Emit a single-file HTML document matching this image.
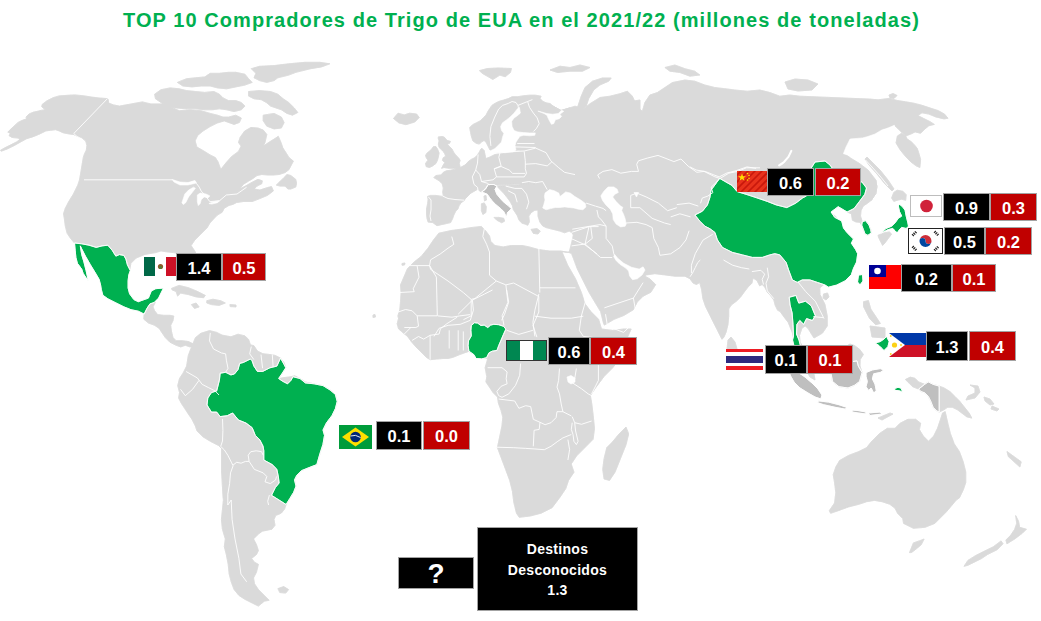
<!DOCTYPE html>
<html><head><meta charset="utf-8">
<style>
html,body{margin:0;padding:0;background:#fff;}
body{width:1041px;height:621px;position:relative;overflow:hidden;font-family:"Liberation Sans",sans-serif;}
.t{position:absolute;left:123px;top:9px;color:#00b050;font-weight:bold;font-size:20px;white-space:nowrap;letter-spacing:1.07px;}
.b{position:absolute;box-sizing:border-box;border:1px solid #a3a3a3;color:#fff;font-weight:bold;font-size:16.5px;padding-top:2px;display:flex;align-items:center;justify-content:center;}
.k{background:#000;}
.r{background:#c00000;}
.f{position:absolute;box-sizing:border-box;overflow:hidden;}
</style></head><body>
<svg width="1041" height="621" viewBox="0 0 1041 621" style="position:absolute;left:0;top:0">
<g fill="#dadada" stroke="#dadada" stroke-width="0.6" stroke-linejoin="round"><path d="M0.6,150.2 L4.8,147.8 L10.9,144.8 L16.9,141.7 L19.9,139.3 L18.1,138.1 L12.1,137.5 L9.1,135.7 L10.3,133.3 L7.8,132.1 L13.3,126.7 L18.1,122.4 L21.7,120.6 L26.6,118.8 L26.0,117.0 L29.0,114.0 L33.2,112.2 L36.2,111.6 L41.0,110.4 L45.3,109.7 L41.7,106.7 L42.3,104.3 L47.1,100.7 L53.1,97.7 L59.2,95.9 L67.6,95.3 L74.9,94.9 L84.5,95.9 L91.8,97.1 L99.0,98.0 L106.2,98.5 L108.1,99.2 L108.7,103.1 L113.5,104.9 L119.5,106.1 L142.4,101.9 L150.7,103.9 L164.1,103.9 L179.2,110.7 L190.2,109.8 L201.1,110.7 L210.2,113.4 L217.5,115.2 L223.0,117.1 L228.5,117.1 L235.8,115.2 L241.3,118.0 L239.4,122.5 L234.0,124.4 L224.3,120.9 L217.2,123.0 L210.1,126.6 L203.0,131.0 L197.7,135.4 L195.1,140.8 L196.8,147.0 L203.0,150.5 L210.1,154.9 L215.4,157.6 L218.1,162.0 L220.8,169.5 L225.2,163.8 L231.4,156.7 L238.5,151.4 L241.1,146.1 L238.5,142.5 L240.2,137.2 L244.7,131.0 L250.9,127.5 L258.0,128.0 L263.3,130.1 L266.8,134.5 L265.0,142.5 L263.3,146.1 L268.6,142.5 L275.7,138.1 L278.3,136.3 L281.0,142.5 L282.8,147.8 L286.3,153.2 L289.0,157.6 L293.4,161.1 L288.9,169.7 L285.0,172.6 L279.2,174.5 L273.4,175.0 L267.6,175.0 L261.8,174.5 L257.0,175.5 L253.1,178.4 L248.3,181.3 L243.5,184.2 L239.6,189.0 L245.4,186.1 L252.2,182.2 L258.0,179.3 L262.3,180.8 L261.8,183.7 L257.0,186.1 L254.1,189.0 L259.9,190.0 L267.6,187.5 L271.5,186.6 L273.4,190.9 L267.6,195.3 L259.9,198.6 L252.2,201.5 L243.5,201.5 L236.7,202.5 L232.9,204.4 L229.0,205.4 L224.2,208.3 L222.2,212.2 L217.4,215.1 L214.5,218.0 L209.9,223.0 L207.1,227.8 L200.0,234.9 L194.7,240.2 L191.1,245.6 L194.7,250.9 L201.7,265.0 L203.5,275.7 L198.2,272.1 L191.1,259.7 L184.0,254.4 L173.4,252.6 L166.3,251.8 L161.0,250.9 L155.7,252.6 L145.0,254.4 L136.2,258.0 L130.9,263.3 L130.0,268.6 L129.1,272.1 L115.0,258.0 L100.0,250.0 L80.0,246.0 L74.5,243.0 L70.6,238.5 L67.1,233.2 L65.3,226.1 L64.4,219.0 L63.5,213.7 L65.3,208.3 L68.9,201.3 L73.3,194.2 L77.7,185.3 L79.5,180.0 L83.3,157.4 L84.5,153.8 L86.3,150.2 L86.9,145.4 L85.7,141.1 L82.1,138.1 L77.3,136.3 L73.6,134.5 L68.8,133.9 L62.8,132.7 L59.2,130.9 L55.5,129.7 L50.7,130.3 L45.9,130.9 L42.3,132.7 L38.6,134.5 L32.6,136.9 L26.6,138.7 L21.1,141.7 L14.5,145.4 L7.2,149.0 L1.2,151.2 L0.6,150.2 L4.8,147.8 L10.9,144.8 L16.9,141.7 L19.9,139.3 L18.1,138.1 L12.1,137.5 L9.1,135.7 L10.3,133.3 L7.8,132.1 L13.3,126.7 L18.1,122.4 L21.7,120.6 L26.6,118.8 L26.0,117.0 L29.0,114.0 L33.2,112.2 L36.2,111.6 L41.0,110.4 L45.3,109.7 L41.7,106.7 L42.3,104.3 L47.1,100.7 L53.1,97.7 L59.2,95.9 L67.6,95.3 L74.9,94.9 L84.5,95.9 L91.8,97.1 L99.0,98.0 L106.2,98.5 L108.1,99.2 L108.7,103.1 L113.5,104.9 L119.5,106.1 L142.4,101.9 L150.7,103.9 L164.1,103.9 L179.2,110.7 L190.2,109.8 L201.1,110.7 L210.2,113.4 L217.5,115.2 L223.0,117.1 L228.5,117.1 L235.8,115.2 L241.3,118.0 L239.4,122.5 L234.0,124.4 L224.3,120.9 L217.2,123.0 L210.1,126.6 L203.0,131.0 L197.7,135.4 L195.1,140.8 L196.8,147.0 L203.0,150.5 L210.1,154.9 L215.4,157.6 L218.1,162.0 L220.8,169.5 L225.2,163.8 L231.4,156.7 L238.5,151.4 L241.1,146.1 L238.5,142.5 L240.2,137.2 L244.7,131.0 L250.9,127.5 L258.0,128.0 L263.3,130.1 L266.8,134.5 L265.0,142.5 L263.3,146.1 L268.6,142.5 L275.7,138.1 L278.3,136.3 L281.0,142.5 L282.8,147.8 L286.3,153.2 L289.0,157.6 L293.4,161.1 L288.9,169.7 L285.0,172.6 L279.2,174.5 L273.4,175.0 L267.6,175.0 L261.8,174.5 L257.0,175.5 L253.1,178.4 L248.3,181.3 L243.5,184.2 L239.6,189.0 L245.4,186.1 L252.2,182.2 L258.0,179.3 L262.3,180.8 L261.8,183.7 L257.0,186.1 L254.1,189.0 L259.9,190.0 L267.6,187.5 L271.5,186.6 L273.4,190.9 L267.6,195.3 L259.9,198.6 L252.2,201.5 L243.5,201.5 L236.7,202.5 L232.9,204.4 L229.0,205.4 L224.2,208.3 L222.2,212.2 L217.4,215.1 L214.5,218.0 L209.9,223.0 L207.1,227.8 L200.0,234.9 L194.7,240.2 L191.1,245.6 L194.7,250.9 L201.7,265.0 L203.5,275.7 L198.2,272.1 L191.1,259.7 L184.0,254.4 L173.4,252.6 L166.3,251.8 L161.0,250.9 L155.7,252.6 L145.0,254.4 L136.2,258.0 L130.9,263.3 L130.0,268.6 L129.1,272.1 L115.0,258.0 L100.0,250.0 L80.0,246.0 L74.5,243.0 L70.6,238.5 L67.1,233.2 L65.3,226.1 L64.4,219.0 L63.5,213.7 L65.3,208.3 L68.9,201.3 L73.3,194.2 L77.7,185.3 L79.5,180.0 L83.3,157.4 L84.5,153.8 L86.3,150.2 L86.9,145.4 L85.7,141.1 L82.1,138.1 L77.3,136.3 L73.6,134.5 L68.8,133.9 L62.8,132.7 L59.2,130.9 L55.5,129.7 L50.7,130.3 L45.9,130.9 L42.3,132.7 L38.6,134.5 L32.6,136.9 L26.6,138.7 L21.1,141.7 L14.5,145.4 L7.2,149.0 L1.2,151.2ZM251.3,68.7 L259.5,66.3 L274.1,65.6 L288.7,63.8 L305.1,62.3 L319.7,62.3 L329.8,63.8 L321.6,66.9 L310.6,68.7 L296.0,72.3 L288.7,75.1 L277.8,77.8 L274.1,80.6 L266.8,82.4 L259.5,80.6 L254.0,77.8 L255.9,73.3 L251.3,68.7 L259.5,66.3 L274.1,65.6 L288.7,63.8 L305.1,62.3 L319.7,62.3 L329.8,63.8 L321.6,66.9 L310.6,68.7 L296.0,72.3 L288.7,75.1 L277.8,77.8 L274.1,80.6 L266.8,82.4 L259.5,80.6 L254.0,77.8 L255.9,73.3ZM248.6,91.5 L259.5,90.6 L270.5,91.5 L277.8,94.2 L283.2,98.8 L288.7,102.5 L294.2,107.9 L297.8,112.5 L292.4,115.2 L286.9,113.4 L281.4,109.8 L275.9,107.9 L270.5,106.1 L266.8,102.8 L261.3,99.7 L254.0,98.8 L248.6,96.1 L248.6,91.5 L259.5,90.6 L270.5,91.5 L277.8,94.2 L283.2,98.8 L288.7,102.5 L294.2,107.9 L297.8,112.5 L292.4,115.2 L286.9,113.4 L281.4,109.8 L275.9,107.9 L270.5,106.1 L266.8,102.8 L261.3,99.7 L254.0,98.8 L248.6,96.1ZM263.2,115.2 L274.1,113.4 L281.4,117.1 L284.1,122.5 L281.4,128.0 L274.1,128.9 L266.8,126.2 L263.2,120.7 L263.2,115.2 L274.1,113.4 L281.4,117.1 L284.1,122.5 L281.4,128.0 L274.1,128.9 L266.8,126.2 L263.2,120.7ZM154.6,94.2 L161.0,89.7 L170.1,87.9 L179.2,88.8 L186.5,90.6 L195.6,91.5 L204.8,92.4 L213.9,91.5 L219.4,94.2 L223.0,97.9 L228.5,100.6 L235.8,100.6 L241.3,102.5 L244.9,106.1 L241.3,109.8 L234.0,111.6 L226.7,109.8 L219.4,108.8 L212.1,109.8 L204.8,109.8 L195.6,108.8 L186.5,108.8 L175.6,107.9 L166.4,106.1 L161.0,102.5 L155.5,98.8 L154.6,94.2 L161.0,89.7 L170.1,87.9 L179.2,88.8 L186.5,90.6 L195.6,91.5 L204.8,92.4 L213.9,91.5 L219.4,94.2 L223.0,97.9 L228.5,100.6 L235.8,100.6 L241.3,102.5 L244.9,106.1 L241.3,109.8 L234.0,111.6 L226.7,109.8 L219.4,108.8 L212.1,109.8 L204.8,109.8 L195.6,108.8 L186.5,108.8 L175.6,107.9 L166.4,106.1 L161.0,102.5 L155.5,98.8ZM177.4,82.4 L186.5,78.7 L195.6,77.8 L204.8,76.9 L210.2,73.3 L219.4,73.3 L228.5,72.3 L235.8,72.3 L244.9,74.2 L248.6,78.7 L252.2,82.4 L244.9,85.1 L235.8,86.9 L226.7,88.8 L217.5,87.9 L210.2,86.0 L201.1,86.0 L192.0,86.9 L182.9,86.0 L177.4,82.4 L186.5,78.7 L195.6,77.8 L204.8,76.9 L210.2,73.3 L219.4,73.3 L228.5,72.3 L235.8,72.3 L244.9,74.2 L248.6,78.7 L252.2,82.4 L244.9,85.1 L235.8,86.9 L226.7,88.8 L217.5,87.9 L210.2,86.0 L201.1,86.0 L192.0,86.9 L182.9,86.0ZM276.3,185.1 L280.2,181.3 L284.1,177.4 L287.0,174.5 L290.8,175.5 L295.7,179.3 L296.6,183.2 L295.7,187.1 L290.8,189.0 L287.9,189.0 L285.0,186.1 L280.2,186.1 L276.3,185.1 L280.2,181.3 L284.1,177.4 L287.0,174.5 L290.8,175.5 L295.7,179.3 L296.6,183.2 L295.7,187.1 L290.8,189.0 L287.9,189.0 L285.0,186.1 L280.2,186.1ZM171.5,288.4 L179.1,285.4 L188.4,287.7 L197.6,291.5 L205.3,295.4 L203.7,297.7 L196.1,296.9 L188.4,294.6 L180.7,293.1 L177.6,296.1 L176.1,291.5 L172.2,290.0 L171.5,288.4 L179.1,285.4 L188.4,287.7 L197.6,291.5 L205.3,295.4 L203.7,297.7 L196.1,296.9 L188.4,294.6 L180.7,293.1 L177.6,296.1 L176.1,291.5 L172.2,290.0ZM206.8,300.7 L213.0,299.2 L220.6,300.7 L225.3,303.0 L219.1,305.4 L211.4,304.6 L206.8,303.0 L206.8,300.7 L213.0,299.2 L220.6,300.7 L225.3,303.0 L219.1,305.4 L211.4,304.6 L206.8,303.0ZM191.4,304.6 L196.1,303.0 L199.1,306.9 L194.5,308.4 L191.4,304.6 L196.1,303.0 L199.1,306.9 L194.5,308.4ZM229.9,304.6 L236.0,305.0 L236.0,306.9 L230.2,306.6 L229.9,304.6 L236.0,305.0 L236.0,306.9 L230.2,306.6ZM144.1,314.1 L147.0,308.3 L149.9,303.9 L154.2,302.5 L155.3,302.3 L153.0,306.9 L154.6,310.7 L157.6,314.6 L163.8,315.3 L169.9,315.3 L173.8,316.1 L173.0,320.7 L170.7,325.3 L171.5,331.5 L173.0,337.6 L176.1,340.7 L182.2,340.7 L188.4,341.5 L193.0,343.8 L195.0,346.0 L189.9,346.9 L185.3,345.3 L180.7,346.9 L176.1,345.3 L169.9,342.2 L165.3,337.6 L162.2,333.0 L159.2,328.4 L154.6,325.3 L148.4,323.0 L143.8,319.2 L144.1,314.1 L147.0,308.3 L149.9,303.9 L154.2,302.5 L155.3,302.3 L153.0,306.9 L154.6,310.7 L157.6,314.6 L163.8,315.3 L169.9,315.3 L173.8,316.1 L173.0,320.7 L170.7,325.3 L171.5,331.5 L173.0,337.6 L176.1,340.7 L182.2,340.7 L188.4,341.5 L193.0,343.8 L195.0,346.0 L189.9,346.9 L185.3,345.3 L180.7,346.9 L176.1,345.3 L169.9,342.2 L165.3,337.6 L162.2,333.0 L159.2,328.4 L154.6,325.3 L148.4,323.0 L143.8,319.2ZM191.0,348.3 L195.4,337.7 L200.8,333.3 L209.6,330.6 L216.7,332.4 L222.0,335.1 L230.9,336.8 L238.0,334.2 L245.0,335.9 L248.6,339.5 L250.4,344.8 L253.9,345.7 L257.4,351.0 L262.8,353.7 L269.9,354.5 L275.2,355.4 L280.5,358.1 L284.0,362.5 L285.8,367.8 L282.3,373.2 L278.7,378.5 L284.0,377.6 L291.1,376.7 L294.7,375.8 L300.0,378.5 L305.3,382.0 L314.1,383.8 L323.0,385.6 L330.1,390.0 L335.4,394.4 L337.2,401.5 L335.4,408.6 L331.9,415.7 L326.5,422.8 L323.0,430.0 L324.5,435.4 L322.9,444.6 L319.9,453.8 L316.8,464.6 L309.1,467.6 L301.4,470.7 L296.8,475.3 L294.5,479.9 L296.0,486.1 L293.7,492.2 L289.9,498.4 L286.1,504.5 L284.5,509.1 L281.4,513.0 L278.4,514.5 L275.9,515.2 L274.0,519.5 L275.0,525.3 L272.0,529.2 L262.3,531.2 L258.4,534.1 L253.5,538.9 L256.5,544.8 L258.4,550.6 L256.5,554.5 L251.6,558.4 L254.5,562.3 L258.4,564.3 L256.5,572.0 L253.5,577.9 L254.5,583.7 L258.4,589.6 L264.3,595.4 L269.1,600.3 L264.3,601.2 L258.4,606.1 L252.6,603.2 L244.8,599.3 L238.9,595.4 L234.1,589.6 L231.2,581.8 L229.2,574.0 L228.2,564.3 L226.3,554.5 L224.3,546.7 L225.3,538.9 L222.4,529.2 L221.4,519.5 L222.4,509.7 L223.4,500.0 L223.0,496.9 L222.3,484.6 L221.5,470.7 L221.5,458.4 L221.5,448.4 L218.4,445.4 L210.7,441.5 L203.1,436.9 L196.9,430.8 L195.4,426.1 L192.3,420.0 L191.9,419.2 L188.3,413.9 L184.8,408.6 L181.3,403.3 L178.6,398.0 L179.5,392.6 L177.7,385.6 L179.5,378.5 L183.0,373.2 L186.6,366.1 L188.3,355.4 L191.0,348.3 L195.4,337.7 L200.8,333.3 L209.6,330.6 L216.7,332.4 L222.0,335.1 L230.9,336.8 L238.0,334.2 L245.0,335.9 L248.6,339.5 L250.4,344.8 L253.9,345.7 L257.4,351.0 L262.8,353.7 L269.9,354.5 L275.2,355.4 L280.5,358.1 L284.0,362.5 L285.8,367.8 L282.3,373.2 L278.7,378.5 L284.0,377.6 L291.1,376.7 L294.7,375.8 L300.0,378.5 L305.3,382.0 L314.1,383.8 L323.0,385.6 L330.1,390.0 L335.4,394.4 L337.2,401.5 L335.4,408.6 L331.9,415.7 L326.5,422.8 L323.0,430.0 L324.5,435.4 L322.9,444.6 L319.9,453.8 L316.8,464.6 L309.1,467.6 L301.4,470.7 L296.8,475.3 L294.5,479.9 L296.0,486.1 L293.7,492.2 L289.9,498.4 L286.1,504.5 L284.5,509.1 L281.4,513.0 L278.4,514.5 L275.9,515.2 L274.0,519.5 L275.0,525.3 L272.0,529.2 L262.3,531.2 L258.4,534.1 L253.5,538.9 L256.5,544.8 L258.4,550.6 L256.5,554.5 L251.6,558.4 L254.5,562.3 L258.4,564.3 L256.5,572.0 L253.5,577.9 L254.5,583.7 L258.4,589.6 L264.3,595.4 L269.1,600.3 L264.3,601.2 L258.4,606.1 L252.6,603.2 L244.8,599.3 L238.9,595.4 L234.1,589.6 L231.2,581.8 L229.2,574.0 L228.2,564.3 L226.3,554.5 L224.3,546.7 L225.3,538.9 L222.4,529.2 L221.4,519.5 L222.4,509.7 L223.4,500.0 L223.0,496.9 L222.3,484.6 L221.5,470.7 L221.5,458.4 L221.5,448.4 L218.4,445.4 L210.7,441.5 L203.1,436.9 L196.9,430.8 L195.4,426.1 L192.3,420.0 L191.9,419.2 L188.3,413.9 L184.8,408.6 L181.3,403.3 L178.6,398.0 L179.5,392.6 L177.7,385.6 L179.5,378.5 L183.0,373.2 L186.6,366.1 L188.3,355.4ZM277.9,588.6 L283.7,586.6 L288.6,589.6 L285.7,593.1 L279.8,592.5 L277.9,588.6 L283.7,586.6 L288.6,589.6 L285.7,593.1 L279.8,592.5ZM393.5,118.5 L398.0,113.2 L404.2,114.9 L409.5,113.2 L416.6,114.0 L419.2,117.6 L414.8,122.0 L405.9,124.7 L398.9,122.9 L393.5,118.5 L398.0,113.2 L404.2,114.9 L409.5,113.2 L416.6,114.0 L419.2,117.6 L414.8,122.0 L405.9,124.7 L398.9,122.9ZM479.5,70.6 L487.4,68.5 L498.1,68.0 L511.4,68.5 L510.5,72.4 L505.2,76.8 L499.9,75.1 L492.8,79.5 L488.3,76.8 L482.1,73.3 L479.5,70.6 L487.4,68.5 L498.1,68.0 L511.4,68.5 L510.5,72.4 L505.2,76.8 L499.9,75.1 L492.8,79.5 L488.3,76.8 L482.1,73.3ZM531.1,229.4 L536.9,228.6 L540.3,231.1 L538.0,234.0 L533.4,233.4 L531.1,229.4 L536.9,228.6 L540.3,231.1 L538.0,234.0 L533.4,233.4ZM437.0,225.7 L432.8,222.6 L428.1,222.1 L427.0,218.4 L426.5,214.2 L426.5,209.0 L427.6,203.7 L428.1,199.6 L427.6,196.4 L430.7,195.4 L435.9,195.4 L442.2,196.4 L443.3,195.4 L442.7,192.2 L443.3,188.0 L442.2,183.8 L439.1,180.7 L433.8,177.6 L435.9,175.5 L441.2,174.9 L443.3,172.3 L446.4,170.8 L450.6,170.2 L454.8,169.2 L459.0,168.1 L461.1,167.1 L464.9,165.1 L466.5,163.5 L468.9,161.0 L471.3,159.4 L474.6,157.8 L477.0,155.4 L479.4,152.0 L480.5,149.5 L481.8,148.2 L484.2,150.6 L485.0,154.6 L485.8,158.6 L490.0,157.0 L495.0,154.5 L502.1,153.7 L509.2,152.8 L516.3,151.9 L523.4,151.5 L535.0,150.0 L535.0,183.0 L497.0,185.0 L488.0,184.0 L481.4,192.2 L477.6,189.3 L470.8,193.2 L465.0,199.0 L464.2,200.6 L461.1,202.7 L459.0,205.8 L457.9,209.0 L455.8,211.1 L453.7,215.3 L452.7,218.4 L450.6,222.6 L446.4,223.6 L441.2,224.7 L437.0,225.7 L432.8,222.6 L428.1,222.1 L427.0,218.4 L426.5,214.2 L426.5,209.0 L427.6,203.7 L428.1,199.6 L427.6,196.4 L430.7,195.4 L435.9,195.4 L442.2,196.4 L443.3,195.4 L442.7,192.2 L443.3,188.0 L442.2,183.8 L439.1,180.7 L433.8,177.6 L435.9,175.5 L441.2,174.9 L443.3,172.3 L446.4,170.8 L450.6,170.2 L454.8,169.2 L459.0,168.1 L461.1,167.1 L464.9,165.1 L466.5,163.5 L468.9,161.0 L471.3,159.4 L474.6,157.8 L477.0,155.4 L479.4,152.0 L480.5,149.5 L481.8,148.2 L484.2,150.6 L485.0,154.6 L485.8,158.6 L490.0,157.0 L495.0,154.5 L502.1,153.7 L509.2,152.8 L516.3,151.9 L523.4,151.5 L535.0,150.0 L535.0,183.0 L497.0,185.0 L488.0,184.0 L481.4,192.2 L477.6,189.3 L470.8,193.2 L465.0,199.0 L464.2,200.6 L461.1,202.7 L459.0,205.8 L457.9,209.0 L455.8,211.1 L453.7,215.3 L452.7,218.4 L450.6,222.6 L446.4,223.6 L441.2,224.7ZM494.0,217.4 L498.8,217.4 L503.7,218.3 L504.6,221.2 L501.7,222.7 L496.9,220.3 L494.0,217.4 L498.8,217.4 L503.7,218.3 L504.6,221.2 L501.7,222.7 L496.9,220.3ZM481.4,203.8 L484.3,202.9 L486.3,206.7 L485.8,212.5 L482.9,214.5 L481.4,210.6 L481.4,203.8 L484.3,202.9 L486.3,206.7 L485.8,212.5 L482.9,214.5 L481.4,210.6ZM484.0,196.0 L486.0,195.5 L486.5,200.0 L484.5,201.0 L484.0,196.0 L486.0,195.5 L486.5,200.0 L484.5,201.0ZM438.3,136.9 L442.4,136.5 L444.4,137.3 L447.2,140.5 L450.4,141.3 L449.6,143.3 L447.2,144.1 L449.6,146.6 L452.0,149.0 L453.6,152.2 L456.0,155.4 L458.5,157.8 L460.1,160.2 L459.3,163.5 L460.1,166.7 L458.5,169.1 L453.6,168.3 L448.8,168.3 L444.0,167.5 L441.6,168.3 L443.2,165.1 L444.8,162.7 L442.4,160.2 L443.2,157.8 L445.6,156.2 L444.8,153.8 L443.2,151.4 L441.6,149.8 L439.1,147.4 L438.3,144.1 L439.1,140.9 L438.3,138.5 L438.3,136.9 L442.4,136.5 L444.4,137.3 L447.2,140.5 L450.4,141.3 L449.6,143.3 L447.2,144.1 L449.6,146.6 L452.0,149.0 L453.6,152.2 L456.0,155.4 L458.5,157.8 L460.1,160.2 L459.3,163.5 L460.1,166.7 L458.5,169.1 L453.6,168.3 L448.8,168.3 L444.0,167.5 L441.6,168.3 L443.2,165.1 L444.8,162.7 L442.4,160.2 L443.2,157.8 L445.6,156.2 L444.8,153.8 L443.2,151.4 L441.6,149.8 L439.1,147.4 L438.3,144.1 L439.1,140.9 L438.3,138.5ZM425.5,155.4 L427.1,153.0 L431.1,149.8 L433.5,146.6 L435.9,146.6 L437.5,149.0 L439.1,153.0 L438.3,157.0 L437.5,160.2 L435.9,163.5 L432.7,165.9 L429.5,167.5 L426.3,166.7 L425.5,163.5 L427.9,160.2 L426.3,157.8 L425.5,155.4 L427.1,153.0 L431.1,149.8 L433.5,146.6 L435.9,146.6 L437.5,149.0 L439.1,153.0 L438.3,157.0 L437.5,160.2 L435.9,163.5 L432.7,165.9 L429.5,167.5 L426.3,166.7 L425.5,163.5 L427.9,160.2 L426.3,157.8ZM479.4,144.1 L476.2,143.3 L472.9,140.9 L471.3,136.1 L470.5,132.1 L469.7,127.6 L472.6,124.7 L476.4,122.8 L480.3,120.8 L483.2,117.9 L486.1,115.0 L488.0,111.2 L489.9,108.3 L491.9,105.4 L494.8,103.5 L498.6,101.5 L503.5,100.1 L508.3,98.6 L512.1,96.7 L517.9,96.7 L523.7,95.7 L529.5,95.2 L535.3,95.2 L541.1,96.2 L540.1,98.6 L543.0,101.5 L546.9,103.0 L550.0,103.5 L553.0,106.1 L561.0,110.5 L570.0,107.8 L575.0,140.0 L540.0,145.0 L520.0,150.0 L500.0,152.0 L492.0,151.5 L490.0,150.0 L488.5,147.0 L487.0,144.0 L486.0,142.0 L484.0,140.5 L481.8,141.7 L479.4,144.1 L476.2,143.3 L472.9,140.9 L471.3,136.1 L470.5,132.1 L469.7,127.6 L472.6,124.7 L476.4,122.8 L480.3,120.8 L483.2,117.9 L486.1,115.0 L488.0,111.2 L489.9,108.3 L491.9,105.4 L494.8,103.5 L498.6,101.5 L503.5,100.1 L508.3,98.6 L512.1,96.7 L517.9,96.7 L523.7,95.7 L529.5,95.2 L535.3,95.2 L541.1,96.2 L540.1,98.6 L543.0,101.5 L546.9,103.0 L550.0,103.5 L553.0,106.1 L561.0,110.5 L570.0,107.8 L575.0,140.0 L540.0,145.0 L520.0,150.0 L500.0,152.0 L492.0,151.5 L490.0,150.0 L488.5,147.0 L487.0,144.0 L486.0,142.0 L484.0,140.5 L481.8,141.7ZM496.9,186.0 L545.0,183.0 L545.0,195.0 L543.0,206.0 L538.0,210.0 L534.6,210.3 L531.1,212.7 L528.8,216.1 L529.4,221.9 L527.7,225.3 L525.4,224.2 L522.0,223.2 L519.1,220.3 L517.2,215.4 L515.3,212.5 L513.3,209.6 L512.4,205.8 L510.4,201.9 L507.5,198.0 L503.7,193.2 L499.8,189.3 L496.9,186.0 L545.0,183.0 L545.0,195.0 L543.0,206.0 L538.0,210.0 L534.6,210.3 L531.1,212.7 L528.8,216.1 L529.4,221.9 L527.7,225.3 L525.4,224.2 L522.0,223.2 L519.1,220.3 L517.2,215.4 L515.3,212.5 L513.3,209.6 L512.4,205.8 L510.4,201.9 L507.5,198.0 L503.7,193.2 L499.8,189.3ZM538.0,210.0 L543.0,206.0 L545.0,195.0 L545.0,170.0 L620.0,170.0 L620.0,240.0 L574.4,240.0 L573.8,235.7 L572.0,232.8 L569.2,231.1 L564.6,232.8 L559.9,231.1 L555.3,229.9 L550.7,228.8 L546.1,227.6 L542.7,225.9 L539.8,221.9 L538.0,216.1 L538.0,211.5 L538.0,210.0 L543.0,206.0 L545.0,195.0 L545.0,170.0 L620.0,170.0 L620.0,240.0 L574.4,240.0 L573.8,235.7 L572.0,232.8 L569.2,231.1 L564.6,232.8 L559.9,231.1 L555.3,229.9 L550.7,228.8 L546.1,227.6 L542.7,225.9 L539.8,221.9 L538.0,216.1 L538.0,211.5ZM438.8,233.2 L451.2,230.5 L462.1,229.1 L470.3,227.7 L481.3,226.4 L485.4,230.5 L489.5,235.9 L490.8,241.4 L494.9,245.5 L503.2,246.9 L511.4,245.5 L522.3,245.5 L529.2,246.9 L538.7,249.6 L549.7,251.0 L560.6,251.0 L568.8,252.4 L561.9,251.7 L567.7,265.2 L575.5,278.8 L581.3,292.3 L585.1,303.9 L590.9,311.6 L598.6,319.3 L601.5,329.0 L612.6,330.4 L623.6,329.0 L631.2,329.0 L626.3,339.9 L618.1,356.4 L619.1,360.0 L612.3,368.2 L604.1,376.4 L595.9,387.4 L590.4,395.6 L591.8,403.8 L593.1,414.7 L594.5,428.4 L593.1,439.3 L584.9,447.6 L576.7,455.8 L571.2,464.0 L574.0,472.2 L568.5,480.4 L565.8,488.6 L560.3,496.8 L552.1,507.7 L541.1,513.2 L530.2,516.0 L519.2,517.3 L516.5,513.2 L513.8,502.3 L512.4,491.3 L509.7,480.4 L505.6,469.4 L501.5,458.5 L497.4,447.6 L501.9,426.2 L502.8,417.3 L501.0,410.3 L498.4,403.2 L497.5,397.0 L493.0,392.5 L489.5,387.2 L485.9,381.9 L486.8,376.6 L485.1,367.7 L487.7,358.9 L478.5,356.4 L468.8,351.4 L464.9,352.7 L459.7,354.6 L453.3,357.2 L448.1,358.5 L443.0,358.5 L436.5,359.1 L430.1,359.7 L426.2,357.2 L421.1,352.0 L415.9,346.9 L411.4,341.7 L407.6,336.5 L403.0,332.7 L398.5,328.8 L397.2,323.7 L398.5,318.5 L397.9,315.9 L399.8,309.5 L400.5,301.8 L401.1,292.7 L400.5,285.0 L403.3,278.4 L407.4,268.8 L414.2,261.9 L421.1,256.5 L427.9,248.3 L433.4,240.1 L438.8,233.2 L451.2,230.5 L462.1,229.1 L470.3,227.7 L481.3,226.4 L485.4,230.5 L489.5,235.9 L490.8,241.4 L494.9,245.5 L503.2,246.9 L511.4,245.5 L522.3,245.5 L529.2,246.9 L538.7,249.6 L549.7,251.0 L560.6,251.0 L568.8,252.4 L561.9,251.7 L567.7,265.2 L575.5,278.8 L581.3,292.3 L585.1,303.9 L590.9,311.6 L598.6,319.3 L601.5,329.0 L612.6,330.4 L623.6,329.0 L631.2,329.0 L626.3,339.9 L618.1,356.4 L619.1,360.0 L612.3,368.2 L604.1,376.4 L595.9,387.4 L590.4,395.6 L591.8,403.8 L593.1,414.7 L594.5,428.4 L593.1,439.3 L584.9,447.6 L576.7,455.8 L571.2,464.0 L574.0,472.2 L568.5,480.4 L565.8,488.6 L560.3,496.8 L552.1,507.7 L541.1,513.2 L530.2,516.0 L519.2,517.3 L516.5,513.2 L513.8,502.3 L512.4,491.3 L509.7,480.4 L505.6,469.4 L501.5,458.5 L497.4,447.6 L501.9,426.2 L502.8,417.3 L501.0,410.3 L498.4,403.2 L497.5,397.0 L493.0,392.5 L489.5,387.2 L485.9,381.9 L486.8,376.6 L485.1,367.7 L487.7,358.9 L478.5,356.4 L468.8,351.4 L464.9,352.7 L459.7,354.6 L453.3,357.2 L448.1,358.5 L443.0,358.5 L436.5,359.1 L430.1,359.7 L426.2,357.2 L421.1,352.0 L415.9,346.9 L411.4,341.7 L407.6,336.5 L403.0,332.7 L398.5,328.8 L397.2,323.7 L398.5,318.5 L397.9,315.9 L399.8,309.5 L400.5,301.8 L401.1,292.7 L400.5,285.0 L403.3,278.4 L407.4,268.8 L414.2,261.9 L421.1,256.5 L427.9,248.3 L433.4,240.1ZM626.0,427.0 L628.7,433.9 L626.0,444.8 L620.5,458.5 L615.0,472.2 L609.5,480.4 L604.1,479.0 L602.7,469.4 L604.1,458.5 L606.8,447.6 L612.3,442.1 L619.1,433.9 L626.0,427.0 L628.7,433.9 L626.0,444.8 L620.5,458.5 L615.0,472.2 L609.5,480.4 L604.1,479.0 L602.7,469.4 L604.1,458.5 L606.8,447.6 L612.3,442.1 L619.1,433.9ZM520.0,135.0 L575.0,110.0 L640.0,100.0 L640.0,190.0 L520.0,190.0 L520.0,135.0 L575.0,110.0 L640.0,100.0 L640.0,190.0 L520.0,190.0ZM542.4,104.3 L553.0,106.1 L561.0,110.5 L570.0,107.8 L575.0,106.2 L583.7,108.7 L590.0,103.7 L600.0,97.5 L609.9,96.2 L619.9,93.7 L627.4,91.2 L632.4,96.2 L637.4,107.4 L642.4,111.2 L644.9,102.4 L649.9,95.0 L657.4,92.5 L664.9,87.5 L672.4,82.5 L684.9,80.0 L694.8,81.2 L704.8,85.0 L714.8,87.5 L724.8,88.7 L734.8,90.0 L747.3,91.2 L759.8,90.0 L769.8,92.5 L779.8,96.2 L789.8,95.0 L800.0,96.2 L870.0,99.1 L878.2,99.8 L889.1,98.4 L897.4,100.5 L905.6,101.8 L913.8,103.2 L922.0,105.3 L930.2,108.0 L938.4,110.7 L944.5,114.1 L948.0,118.3 L943.9,118.9 L935.7,116.9 L928.8,114.1 L922.0,112.8 L917.9,115.5 L923.3,118.3 L930.2,121.7 L934.3,124.4 L928.8,125.8 L924.7,129.2 L920.6,133.3 L915.1,131.9 L911.0,134.0 L905.6,136.0 L894.4,125.3 L888.0,127.7 L881.5,129.3 L878.3,134.2 L871.9,135.8 L862.2,138.2 L849.3,139.0 L847.7,147.9 L844.5,153.5 L850.9,158.3 L859.0,163.2 L865.4,168.0 L868.1,170.0 L875.8,180.0 L876.9,186.8 L875.8,193.5 L871.3,200.3 L866.0,196.0 L860.0,195.0 L700.0,195.0 L560.0,190.0 L540.0,130.0 L542.4,104.3 L553.0,106.1 L561.0,110.5 L570.0,107.8 L575.0,106.2 L583.7,108.7 L590.0,103.7 L600.0,97.5 L609.9,96.2 L619.9,93.7 L627.4,91.2 L632.4,96.2 L637.4,107.4 L642.4,111.2 L644.9,102.4 L649.9,95.0 L657.4,92.5 L664.9,87.5 L672.4,82.5 L684.9,80.0 L694.8,81.2 L704.8,85.0 L714.8,87.5 L724.8,88.7 L734.8,90.0 L747.3,91.2 L759.8,90.0 L769.8,92.5 L779.8,96.2 L789.8,95.0 L800.0,96.2 L870.0,99.1 L878.2,99.8 L889.1,98.4 L897.4,100.5 L905.6,101.8 L913.8,103.2 L922.0,105.3 L930.2,108.0 L938.4,110.7 L944.5,114.1 L948.0,118.3 L943.9,118.9 L935.7,116.9 L928.8,114.1 L922.0,112.8 L917.9,115.5 L923.3,118.3 L930.2,121.7 L934.3,124.4 L928.8,125.8 L924.7,129.2 L920.6,133.3 L915.1,131.9 L911.0,134.0 L905.6,136.0 L894.4,125.3 L888.0,127.7 L881.5,129.3 L878.3,134.2 L871.9,135.8 L862.2,138.2 L849.3,139.0 L847.7,147.9 L844.5,153.5 L850.9,158.3 L859.0,163.2 L865.4,168.0 L868.1,170.0 L875.8,180.0 L876.9,186.8 L875.8,193.5 L871.3,200.3 L866.0,196.0 L860.0,195.0 L700.0,195.0 L560.0,190.0 L540.0,130.0ZM878.0,235.3 L883.7,233.0 L889.3,231.9 L891.6,234.1 L888.2,238.6 L884.8,243.2 L882.6,245.4 L880.3,240.9 L878.6,237.5 L878.0,235.3 L883.7,233.0 L889.3,231.9 L891.6,234.1 L888.2,238.6 L884.8,243.2 L882.6,245.4 L880.3,240.9 L878.6,237.5ZM790.0,185.0 L815.0,190.0 L830.0,205.0 L840.0,225.0 L850.0,250.0 L857.2,254.9 L849.8,269.9 L844.8,277.4 L834.8,279.9 L824.8,283.6 L819.8,288.0 L820.0,294.5 L824.9,304.2 L827.3,316.2 L827.3,325.9 L822.5,333.1 L814.0,338.0 L811.6,334.3 L808.0,328.3 L805.1,325.9 L801.9,328.3 L799.5,335.6 L800.0,342.0 L806.0,352.0 L813.0,368.0 L815.0,380.0 L810.0,377.0 L803.0,365.0 L796.0,350.0 L794.0,340.0 L792.1,332.1 L788.2,322.4 L782.8,315.4 L780.2,311.5 L777.6,310.3 L775.1,305.1 L773.8,300.0 L769.9,294.8 L767.3,292.2 L764.7,287.1 L762.2,284.5 L759.6,285.8 L757.0,280.6 L753.1,278.0 L751.9,283.2 L748.0,287.1 L744.1,292.2 L740.3,297.4 L736.4,301.2 L731.2,305.1 L728.7,309.0 L728.7,316.7 L728.0,324.4 L726.1,332.2 L724.0,337.0 L722.0,339.3 L720.9,337.3 L717.1,329.6 L713.2,321.9 L709.3,314.1 L705.5,306.4 L702.9,298.7 L701.6,289.6 L699.7,282.6 L696.4,284.5 L693.0,283.0 L689.9,278.7 L684.9,276.2 L674.9,276.2 L664.9,274.9 L654.9,273.7 L646.2,274.9 L645.0,276.2 L650.0,279.0 L655.7,284.6 L650.8,292.3 L643.1,296.2 L637.3,302.0 L633.4,309.7 L623.8,315.5 L614.1,319.3 L604.4,325.1 L603.5,323.2 L600.6,311.6 L594.8,302.0 L589.0,292.3 L583.2,280.7 L577.4,269.1 L571.6,253.6 L568.8,252.4 L569.8,249.9 L571.1,244.9 L572.3,239.9 L574.0,232.0 L575.0,185.0 L790.0,185.0 L815.0,190.0 L830.0,205.0 L840.0,225.0 L850.0,250.0 L857.2,254.9 L849.8,269.9 L844.8,277.4 L834.8,279.9 L824.8,283.6 L819.8,288.0 L820.0,294.5 L824.9,304.2 L827.3,316.2 L827.3,325.9 L822.5,333.1 L814.0,338.0 L811.6,334.3 L808.0,328.3 L805.1,325.9 L801.9,328.3 L799.5,335.6 L800.0,342.0 L806.0,352.0 L813.0,368.0 L815.0,380.0 L810.0,377.0 L803.0,365.0 L796.0,350.0 L794.0,340.0 L792.1,332.1 L788.2,322.4 L782.8,315.4 L780.2,311.5 L777.6,310.3 L775.1,305.1 L773.8,300.0 L769.9,294.8 L767.3,292.2 L764.7,287.1 L762.2,284.5 L759.6,285.8 L757.0,280.6 L753.1,278.0 L751.9,283.2 L748.0,287.1 L744.1,292.2 L740.3,297.4 L736.4,301.2 L731.2,305.1 L728.7,309.0 L728.7,316.7 L728.0,324.4 L726.1,332.2 L724.0,337.0 L722.0,339.3 L720.9,337.3 L717.1,329.6 L713.2,321.9 L709.3,314.1 L705.5,306.4 L702.9,298.7 L701.6,289.6 L699.7,282.6 L696.4,284.5 L693.0,283.0 L689.9,278.7 L684.9,276.2 L674.9,276.2 L664.9,274.9 L654.9,273.7 L646.2,274.9 L645.0,276.2 L650.0,279.0 L655.7,284.6 L650.8,292.3 L643.1,296.2 L637.3,302.0 L633.4,309.7 L623.8,315.5 L614.1,319.3 L604.4,325.1 L603.5,323.2 L600.6,311.6 L594.8,302.0 L589.0,292.3 L583.2,280.7 L577.4,269.1 L571.6,253.6 L568.8,252.4 L569.8,249.9 L571.1,244.9 L572.3,239.9 L574.0,232.0 L575.0,185.0ZM854.1,208.5 L859.5,201.4 L866.0,188.0 L875.8,180.0 L876.9,186.8 L875.8,193.5 L871.3,200.3 L866.8,203.7 L863.4,205.9 L861.1,210.4 L860.5,216.0 L862.3,221.7 L865.6,220.6 L869.0,225.1 L870.7,229.6 L871.3,233.0 L867.9,235.3 L865.1,234.1 L863.4,229.6 L861.7,225.1 L859.7,222.3 L856.0,222.0 L852.4,220.2 L851.4,213.9 L847.1,212.0 L854.1,208.5 L859.5,201.4 L866.0,188.0 L875.8,180.0 L876.9,186.8 L875.8,193.5 L871.3,200.3 L866.8,203.7 L863.4,205.9 L861.1,210.4 L860.5,216.0 L862.3,221.7 L865.6,220.6 L869.0,225.1 L870.7,229.6 L871.3,233.0 L867.9,235.3 L865.1,234.1 L863.4,229.6 L861.7,225.1 L859.7,222.3 L856.0,222.0 L852.4,220.2 L851.4,213.9 L847.1,212.0ZM728.0,340.0 L731.0,337.0 L735.0,342.0 L737.0,349.0 L727.0,349.0 L728.0,340.0 L731.0,337.0 L735.0,342.0 L737.0,349.0 L727.0,349.0ZM863.5,301.7 L868.4,300.5 L870.8,309.0 L875.6,316.2 L880.4,323.5 L875.6,324.7 L869.6,318.6 L865.9,311.4 L863.5,306.6 L863.5,301.7 L868.4,300.5 L870.8,309.0 L875.6,316.2 L880.4,323.5 L875.6,324.7 L869.6,318.6 L865.9,311.4 L863.5,306.6ZM870.0,326.0 L885.0,328.0 L885.0,338.0 L872.0,337.0 L870.0,326.0 L885.0,328.0 L885.0,338.0 L872.0,337.0ZM829.3,510.7 L834.5,503.0 L835.8,492.7 L834.5,482.4 L833.2,474.7 L835.8,467.0 L839.6,460.5 L848.6,455.4 L858.9,451.5 L866.7,447.6 L871.8,441.2 L879.5,433.5 L887.3,428.3 L895.0,428.3 L900.1,423.2 L907.9,419.3 L915.6,419.3 L920.7,423.2 L919.4,429.6 L923.3,436.1 L928.5,441.2 L933.6,436.1 L937.5,428.3 L940.1,420.6 L942.6,412.9 L945.2,411.6 L947.8,423.2 L950.4,433.5 L954.2,443.8 L959.4,451.5 L963.2,461.8 L965.8,472.1 L965.8,482.4 L963.2,490.1 L959.4,497.9 L956.3,500.0 L946.5,511.7 L934.8,523.4 L925.1,527.3 L913.4,528.3 L903.6,523.4 L902.7,518.5 L900.1,515.9 L897.6,513.3 L895.0,508.2 L889.8,504.3 L882.1,501.7 L874.4,500.4 L866.7,501.7 L858.9,504.3 L848.6,506.9 L838.3,510.7 L830.6,513.3 L829.3,510.7 L834.5,503.0 L835.8,492.7 L834.5,482.4 L833.2,474.7 L835.8,467.0 L839.6,460.5 L848.6,455.4 L858.9,451.5 L866.7,447.6 L871.8,441.2 L879.5,433.5 L887.3,428.3 L895.0,428.3 L900.1,423.2 L907.9,419.3 L915.6,419.3 L920.7,423.2 L919.4,429.6 L923.3,436.1 L928.5,441.2 L933.6,436.1 L937.5,428.3 L940.1,420.6 L942.6,412.9 L945.2,411.6 L947.8,423.2 L950.4,433.5 L954.2,443.8 L959.4,451.5 L963.2,461.8 L965.8,472.1 L965.8,482.4 L963.2,490.1 L959.4,497.9 L956.3,500.0 L946.5,511.7 L934.8,523.4 L925.1,527.3 L913.4,528.3 L903.6,523.4 L902.7,518.5 L900.1,515.9 L897.6,513.3 L895.0,508.2 L889.8,504.3 L882.1,501.7 L874.4,500.4 L866.7,501.7 L858.9,504.3 L848.6,506.9 L838.3,510.7 L830.6,513.3ZM909.5,552.6 L913.4,542.9 L919.2,540.9 L924.1,539.0 L921.2,544.8 L915.3,549.7 L911.4,552.6 L909.5,552.6 L913.4,542.9 L919.2,540.9 L924.1,539.0 L921.2,544.8 L915.3,549.7 L911.4,552.6ZM964.0,566.3 L967.9,560.4 L975.7,555.5 L983.5,551.6 L993.3,546.8 L1001.1,540.9 L1003.0,543.8 L997.2,549.7 L987.4,554.6 L981.6,558.5 L973.8,562.4 L967.9,565.3 L964.0,566.3 L967.9,560.4 L975.7,555.5 L983.5,551.6 L993.3,546.8 L1001.1,540.9 L1003.0,543.8 L997.2,549.7 L987.4,554.6 L981.6,558.5 L973.8,562.4 L967.9,565.3ZM1015.7,515.6 L1018.6,521.4 L1019.6,527.3 L1026.4,529.2 L1022.5,533.1 L1014.7,539.0 L1006.9,543.8 L1005.9,540.0 L1010.8,535.1 L1014.7,529.2 L1016.7,523.4 L1015.7,515.6 L1018.6,521.4 L1019.6,527.3 L1026.4,529.2 L1022.5,533.1 L1014.7,539.0 L1006.9,543.8 L1005.9,540.0 L1010.8,535.1 L1014.7,529.2 L1016.7,523.4ZM1007.0,451.5 L1021.2,461.8 L1019.9,467.0 L1008.3,456.6 L1007.0,451.5 L1021.2,461.8 L1019.9,467.0 L1008.3,456.6ZM577.5,107.4 L581.2,96.2 L585.0,87.5 L592.4,81.2 L602.4,78.0 L611.2,78.0 L608.7,81.2 L599.9,85.0 L593.7,90.0 L588.7,98.7 L586.2,106.2 L581.2,109.9 L577.5,107.4 L581.2,96.2 L585.0,87.5 L592.4,81.2 L602.4,78.0 L611.2,78.0 L608.7,81.2 L599.9,85.0 L593.7,90.0 L588.7,98.7 L586.2,106.2 L581.2,109.9ZM664.9,67.5 L674.9,65.0 L684.9,68.7 L694.8,71.2 L699.8,75.0 L689.9,76.2 L679.9,72.5 L669.9,71.2 L664.9,67.5 L674.9,65.0 L684.9,68.7 L694.8,71.2 L699.8,75.0 L689.9,76.2 L679.9,72.5 L669.9,71.2ZM550.0,70.0 L560.0,66.2 L570.0,67.5 L580.0,65.0 L590.0,67.5 L582.5,71.2 L570.0,71.2 L557.5,72.5 L550.0,70.0 L560.0,66.2 L570.0,67.5 L580.0,65.0 L590.0,67.5 L582.5,71.2 L570.0,71.2 L557.5,72.5ZM823.5,294.0 L827.5,293.0 L829.0,297.0 L826.0,300.0 L823.0,298.0 L823.5,294.0 L827.5,293.0 L829.0,297.0 L826.0,300.0 L823.0,298.0ZM832.0,362.0 L840.0,350.0 L850.0,344.0 L854.4,345.5 L859.6,349.3 L863.4,354.5 L860.2,359.6 L860.0,366.0 L862.1,372.5 L859.6,381.5 L854.4,385.4 L848.0,388.0 L838.9,386.7 L832.5,381.5 L831.2,374.4 L832.0,362.0 L840.0,350.0 L850.0,344.0 L854.4,345.5 L859.6,349.3 L863.4,354.5 L860.2,359.6 L860.0,366.0 L862.1,372.5 L859.6,381.5 L854.4,385.4 L848.0,388.0 L838.9,386.7 L832.5,381.5 L831.2,374.4ZM905.4,379.5 L910.2,377.1 L915.0,378.3 L918.6,381.9 L924.7,384.3 L928.3,381.9 L933.1,384.3 L939.2,386.1 L944.0,387.9 L950.0,391.6 L954.9,396.4 L959.7,401.2 L964.5,407.3 L969.3,413.3 L971.8,418.1 L966.9,416.9 L962.1,413.3 L957.3,409.7 L952.4,407.3 L947.6,407.3 L944.0,409.7 L939.2,412.1 L936.7,410.9 L933.1,407.3 L930.7,401.2 L928.3,396.4 L924.7,392.8 L921.0,391.6 L918.6,389.1 L912.6,386.7 L909.0,383.1 L905.4,379.5 L910.2,377.1 L915.0,378.3 L918.6,381.9 L924.7,384.3 L928.3,381.9 L933.1,384.3 L939.2,386.1 L944.0,387.9 L950.0,391.6 L954.9,396.4 L959.7,401.2 L964.5,407.3 L969.3,413.3 L971.8,418.1 L966.9,416.9 L962.1,413.3 L957.3,409.7 L952.4,407.3 L947.6,407.3 L944.0,409.7 L939.2,412.1 L936.7,410.9 L933.1,407.3 L930.7,401.2 L928.3,396.4 L924.7,392.8 L921.0,391.6 L918.6,389.1 L912.6,386.7 L909.0,383.1ZM970.0,385.0 L978.0,386.0 L980.0,392.0 L975.0,398.0 L966.0,400.0 L968.0,396.0 L975.0,393.0 L975.0,388.0 L970.0,385.0 L978.0,386.0 L980.0,392.0 L975.0,398.0 L966.0,400.0 L968.0,396.0 L975.0,393.0 L975.0,388.0ZM878.0,418.0 L890.0,413.0 L893.0,414.0 L882.0,420.0 L878.0,418.0 L890.0,413.0 L893.0,414.0 L882.0,420.0ZM785.0,82.0 L795.0,79.0 L808.0,80.0 L818.0,84.0 L812.0,90.0 L798.0,91.0 L788.0,89.0 L785.0,82.0 L795.0,79.0 L808.0,80.0 L818.0,84.0 L812.0,90.0 L798.0,91.0 L788.0,89.0ZM889.0,95.0 L893.0,93.5 L897.0,95.5 L894.0,98.5 L890.0,98.0 L889.0,95.0 L893.0,93.5 L897.0,95.5 L894.0,98.5 L890.0,98.0ZM402.0,263.5 L405.0,263.0 L404.5,265.0 L402.0,265.2 L402.0,263.5 L405.0,263.0 L404.5,265.0 L402.0,265.2ZM373.0,315.0 L375.0,314.5 L375.5,317.0 L373.0,317.5 L373.0,315.0 L375.0,314.5 L375.5,317.0 L373.0,317.5ZM984.0,397.0 L990.0,399.0 L994.0,404.0 L990.0,405.0 L985.0,401.0 L984.0,397.0 L990.0,399.0 L994.0,404.0 L990.0,405.0 L985.0,401.0ZM992.0,406.0 L999.0,409.0 L997.0,411.0 L991.0,409.0 L992.0,406.0 L999.0,409.0 L997.0,411.0 L991.0,409.0Z"/></g>
<g fill="#fff" stroke="#fff" stroke-width="0.6"><path d="M608.2,186.9 L613.8,186.9 L617.2,189.2 L618.3,192.5 L614.9,194.2 L612.7,197.0 L616.1,201.5 L620.6,206.1 L622.8,207.2 L621.7,210.6 L623.4,213.9 L625.1,218.5 L626.2,224.1 L625.1,226.3 L620.6,226.9 L616.1,224.1 L613.2,219.6 L612.7,213.9 L610.4,209.4 L605.9,204.9 L602.5,200.4 L600.8,195.9 L603.7,191.4 L607.0,188.0ZM634.0,192.5 L638.6,192.5 L636.5,197.0ZM541.3,111.9 L546.9,113.6 L552.5,114.2 L558.2,113.6 L561.6,110.2 L563.8,111.3 L559.9,114.2 L561.6,116.4 L559.3,118.7 L555.4,119.8 L553.7,123.7 L551.4,124.3 L548.6,119.2 L546.9,115.3 L544.1,113.6 L537.9,111.1ZM545.0,193.1 L549.6,189.6 L554.2,190.7 L558.8,193.1 L559.9,196.5 L562.2,194.8 L565.7,191.9 L570.3,193.1 L574.9,196.5 L580.7,200.0 L585.3,203.4 L585.9,206.9 L583.0,209.8 L578.4,209.2 L573.8,208.0 L569.2,207.5 L564.6,206.9 L559.9,207.5 L555.3,207.5 L550.7,208.6 L546.1,209.8 L542.7,208.0 L543.8,204.6 L545.0,200.0 L544.4,196.5ZM519.4,107.3 L520.4,113.1 L517.0,116.0 L514.1,117.9 L511.7,121.3 L512.1,126.6 L514.1,130.5 L517.9,131.9 L523.7,132.6 L529.5,132.9 L535.3,132.9 L534.8,135.3 L529.5,135.8 L523.7,135.3 L519.9,136.3 L517.9,139.2 L516.0,142.1 L515.0,145.9 L516.0,150.0 L513.0,152.0 L505.0,152.5 L497.0,152.5 L492.0,153.0 L490.0,151.0 L495.0,148.5 L501.5,142.1 L502.5,137.2 L503.9,133.4 L501.5,130.5 L500.6,126.6 L502.5,122.8 L506.4,119.9 L510.2,117.0 L514.1,113.1 L517.0,109.2ZM843.4,153.7 L846.0,147.0 L850.1,139.0 L862.5,137.9 L867.0,136.8 L875.0,134.0 L880.0,131.0 L888.0,128.0 L894.4,125.3 L896.3,141.3 L898.6,150.3 L903.1,155.9 L909.9,162.7 L916.6,168.3 L919.0,175.0 L915.0,182.0 L905.0,186.0 L895.0,188.0 L893.0,187.0 L885.0,178.0 L876.0,168.0 L867.0,158.0 L857.0,157.0 L851.3,155.9ZM614.7,254.6 L618.0,258.5 L623.8,263.3 L631.5,267.2 L639.2,269.1 L643.1,266.8 L645.0,270.1 L642.1,274.9 L637.3,278.8 L632.5,279.7 L629.6,275.9 L628.6,271.0 L625.7,268.1 L619.9,264.3 L616.0,260.4 L613.7,256.5ZM831.0,207.0 L838.0,205.0 L845.0,210.0 L842.0,216.0 L836.0,216.0 L832.0,213.0ZM181.9,202.7 L184.8,194.0 L188.6,190.1 L193.5,187.2 L195.4,188.2 L192.5,192.1 L188.6,196.9 L185.7,202.7 L183.3,204.6ZM172.2,179.5 L180.0,182.0 L188.0,182.5 L195.0,180.5 L196.4,183.0 L188.0,185.0 L180.0,185.0 L174.0,182.0ZM197.3,195.0 L200.2,193.0 L206.0,194.0 L209.9,195.9 L208.0,197.9 L204.1,196.9 L201.2,199.8 L200.2,203.6 L198.3,205.6 L197.3,201.7ZM208.9,203.6 L213.8,201.7 L219.6,200.7 L217.6,202.7 L211.8,204.1ZM567.0,377.0 L571.0,375.5 L575.0,378.0 L575.0,382.0 L571.0,384.0 L568.0,382.0Z"/></g>
<g fill="#dadada" stroke="#dadada" stroke-width="0.6"><path d="M901.5,133.3 L905.6,136.0 L906.9,138.8 L911.0,141.5 L913.8,144.2 L917.2,148.3 L918.6,152.4 L920.6,159.3 L919.9,167.5 L916.5,166.1 L911.0,162.0 L905.6,156.6 L900.1,149.7 L896.0,142.9 L897.4,136.0 L901.5,133.3 L905.6,136.0 L906.9,138.8 L911.0,141.5 L913.8,144.2 L917.2,148.3 L918.6,152.4 L920.6,159.3 L919.9,167.5 L916.5,166.1 L911.0,162.0 L905.6,156.6 L900.1,149.7 L896.0,142.9 L897.4,136.0ZM891.6,198.0 L893.8,192.4 L897.2,190.2 L902.9,191.3 L906.2,194.7 L905.7,200.3 L901.7,199.2 L897.2,200.3 L893.8,201.4 L891.6,198.0 L893.8,192.4 L897.2,190.2 L902.9,191.3 L906.2,194.7 L905.7,200.3 L901.7,199.2 L897.2,200.3 L893.8,201.4ZM867.0,157.0 L872.0,162.0 L880.0,170.0 L888.0,180.0 L894.0,189.0 L892.0,191.0 L885.0,184.0 L877.0,174.0 L869.0,165.0 L865.0,159.0 L867.0,157.0 L872.0,162.0 L880.0,170.0 L888.0,180.0 L894.0,189.0 L892.0,191.0 L885.0,184.0 L877.0,174.0 L869.0,165.0 L865.0,159.0Z"/></g>
<g fill="#bfbfbf" stroke="#fff" stroke-width="0.8"><path d="M488.2,184.5 L494.0,184.5 L496.9,186.4 L495.0,189.3 L496.9,194.2 L500.8,199.0 L504.6,202.9 L508.5,205.8 L511.4,208.7 L509.5,210.6 L507.5,212.5 L506.6,217.4 L505.6,215.4 L503.7,211.6 L500.8,208.7 L495.9,204.8 L492.1,200.9 L489.2,197.1 L487.2,194.2 L483.4,192.7 L481.4,192.2 L485.3,189.3 L487.2,186.4 L488.2,184.5 L494.0,184.5 L496.9,186.4 L495.0,189.3 L496.9,194.2 L500.8,199.0 L504.6,202.9 L508.5,205.8 L511.4,208.7 L509.5,210.6 L507.5,212.5 L506.6,217.4 L505.6,215.4 L503.7,211.6 L500.8,208.7 L495.9,204.8 L492.1,200.9 L489.2,197.1 L487.2,194.2 L483.4,192.7 L481.4,192.2 L485.3,189.3 L487.2,186.4ZM866.0,372.5 L872.4,369.9 L880.2,368.6 L884.0,369.9 L880.2,372.5 L873.7,373.8 L872.4,378.9 L875.0,384.1 L876.3,390.5 L873.7,393.1 L871.1,388.0 L868.6,390.5 L866.0,386.7 L867.3,381.5 L866.0,376.4 L866.0,372.5 L872.4,369.9 L880.2,368.6 L884.0,369.9 L880.2,372.5 L873.7,373.8 L872.4,378.9 L875.0,384.1 L876.3,390.5 L873.7,393.1 L871.1,388.0 L868.6,390.5 L866.0,386.7 L867.3,381.5 L866.0,376.4ZM818.3,400.8 L828.6,402.1 L838.9,404.7 L846.7,407.3 L845.4,409.2 L835.1,407.3 L823.5,404.7 L817.7,402.8 L818.3,400.8 L828.6,402.1 L838.9,404.7 L846.7,407.3 L845.4,409.2 L835.1,407.3 L823.5,404.7 L817.7,402.8ZM852.0,410.0 L858.0,410.5 L866.0,412.0 L866.0,414.0 L858.0,413.0 L852.0,412.0 L852.0,410.0 L858.0,410.5 L866.0,412.0 L866.0,414.0 L858.0,413.0 L852.0,412.0ZM832.0,372.0 L840.0,368.0 L850.0,362.0 L857.0,360.9 L858.3,366.1 L862.1,372.5 L859.6,381.5 L854.4,385.4 L848.0,388.0 L838.9,386.7 L832.5,381.5 L831.2,374.4 L832.0,372.0 L840.0,368.0 L850.0,362.0 L857.0,360.9 L858.3,366.1 L862.1,372.5 L859.6,381.5 L854.4,385.4 L848.0,388.0 L838.9,386.7 L832.5,381.5 L831.2,374.4ZM868.0,413.0 L880.0,412.0 L882.0,414.0 L870.0,415.5 L868.0,413.0 L880.0,412.0 L882.0,414.0 L870.0,415.5ZM918.6,389.1 L924.7,384.3 L928.3,381.9 L933.1,384.3 L939.2,386.1 L939.2,412.1 L936.7,410.9 L933.1,407.3 L930.7,401.2 L928.3,396.4 L924.7,392.8 L921.0,391.6 L918.6,389.1 L924.7,384.3 L928.3,381.9 L933.1,384.3 L939.2,386.1 L939.2,412.1 L936.7,410.9 L933.1,407.3 L930.7,401.2 L928.3,396.4 L924.7,392.8 L921.0,391.6ZM790.0,368.0 L797.7,372.0 L805.0,377.0 L812.0,383.0 L818.0,389.0 L822.0,395.0 L820.9,399.0 L815.0,397.0 L808.0,393.0 L800.0,388.0 L794.0,382.0 L790.0,375.0 L790.0,368.0 L797.7,372.0 L805.0,377.0 L812.0,383.0 L818.0,389.0 L822.0,395.0 L820.9,399.0 L815.0,397.0 L808.0,393.0 L800.0,388.0 L794.0,382.0 L790.0,375.0Z"/></g>
<g fill="#00b050" stroke="#fff" stroke-width="0.8"><path d="M694.9,215.0 L702.4,211.2 L707.4,205.0 L709.9,197.5 L711.1,190.0 L714.9,185.0 L719.5,178.3 L731.9,185.4 L737.2,191.6 L746.1,194.3 L756.7,197.8 L767.3,201.4 L776.2,204.9 L786.8,207.6 L795.7,203.2 L802.8,197.8 L806.3,196.1 L808.0,185.0 L810.0,170.0 L815.0,162.0 L825.0,161.0 L830.0,165.0 L835.0,172.0 L845.0,178.0 L855.0,180.0 L862.0,182.0 L866.5,188.0 L864.8,194.3 L859.5,201.4 L854.1,208.5 L847.1,212.0 L838.2,206.7 L831.1,212.0 L834.7,217.3 L841.7,220.9 L843.5,228.0 L847.2,232.8 L853.5,239.0 L851.4,243.2 L855.6,249.5 L857.7,253.7 L856.6,262.0 L853.5,268.3 L851.4,274.6 L845.1,280.9 L836.7,285.1 L828.4,287.2 L824.8,284.9 L817.3,282.4 L809.8,279.9 L802.3,279.9 L797.3,282.4 L792.3,279.9 L788.6,269.9 L786.1,262.4 L779.8,254.9 L774.8,253.7 L769.8,254.9 L762.3,257.4 L752.3,257.4 L742.4,254.9 L732.4,252.4 L722.4,247.4 L717.4,239.9 L714.9,232.4 L709.9,228.7 L704.9,226.2 L699.9,221.2 L694.9,215.0 L702.4,211.2 L707.4,205.0 L709.9,197.5 L711.1,190.0 L714.9,185.0 L719.5,178.3 L731.9,185.4 L737.2,191.6 L746.1,194.3 L756.7,197.8 L767.3,201.4 L776.2,204.9 L786.8,207.6 L795.7,203.2 L802.8,197.8 L806.3,196.1 L808.0,185.0 L810.0,170.0 L815.0,162.0 L825.0,161.0 L830.0,165.0 L835.0,172.0 L845.0,178.0 L855.0,180.0 L862.0,182.0 L866.5,188.0 L864.8,194.3 L859.5,201.4 L854.1,208.5 L847.1,212.0 L838.2,206.7 L831.1,212.0 L834.7,217.3 L841.7,220.9 L843.5,228.0 L847.2,232.8 L853.5,239.0 L851.4,243.2 L855.6,249.5 L857.7,253.7 L856.6,262.0 L853.5,268.3 L851.4,274.6 L845.1,280.9 L836.7,285.1 L828.4,287.2 L824.8,284.9 L817.3,282.4 L809.8,279.9 L802.3,279.9 L797.3,282.4 L792.3,279.9 L788.6,269.9 L786.1,262.4 L779.8,254.9 L774.8,253.7 L769.8,254.9 L762.3,257.4 L752.3,257.4 L742.4,254.9 L732.4,252.4 L722.4,247.4 L717.4,239.9 L714.9,232.4 L709.9,228.7 L704.9,226.2 L699.9,221.2ZM471.3,325.5 L474.5,322.7 L477.7,323.1 L480.9,325.5 L484.2,325.1 L487.8,327.5 L490.6,325.1 L493.8,324.3 L498.7,324.7 L503.5,326.3 L505.9,329.1 L503.5,334.3 L501.1,340.0 L498.7,345.6 L497.0,350.4 L492.2,351.2 L489.0,352.8 L486.6,357.7 L481.7,358.9 L476.1,358.5 L473.7,354.5 L468.9,351.2 L468.1,345.6 L468.5,340.8 L471.3,335.9 L470.9,330.3 L471.3,325.5 L474.5,322.7 L477.7,323.1 L480.9,325.5 L484.2,325.1 L487.8,327.5 L490.6,325.1 L493.8,324.3 L498.7,324.7 L503.5,326.3 L505.9,329.1 L503.5,334.3 L501.1,340.0 L498.7,345.6 L497.0,350.4 L492.2,351.2 L489.0,352.8 L486.6,357.7 L481.7,358.9 L476.1,358.5 L473.7,354.5 L468.9,351.2 L468.1,345.6 L468.5,340.8 L471.3,335.9 L470.9,330.3ZM74.5,243.0 L81.7,243.8 L89.0,245.2 L96.2,247.4 L102.0,245.9 L107.8,245.2 L112.2,250.3 L115.8,256.1 L119.4,254.6 L123.8,255.4 L125.9,259.0 L127.4,264.8 L130.3,270.6 L128.8,274.9 L128.1,280.7 L128.1,288.0 L129.6,293.8 L133.9,299.6 L138.3,301.7 L144.1,299.6 L148.4,298.1 L151.3,290.9 L155.7,288.7 L163.6,288.0 L161.4,292.3 L158.6,298.1 L154.2,302.5 L149.9,303.9 L147.0,308.3 L144.1,314.1 L138.3,311.2 L131.0,309.7 L123.8,306.8 L115.1,302.5 L107.8,298.8 L102.8,295.2 L101.3,289.4 L100.6,285.1 L99.1,279.3 L94.8,272.0 L90.4,264.8 L85.4,256.1 L81.7,248.8 L80.3,245.9 L81.7,254.6 L83.9,261.9 L86.1,270.6 L88.3,280.7 L86.1,277.8 L83.2,273.5 L81.7,269.1 L77.4,263.3 L75.9,257.5 L75.2,250.3 L74.5,243.0 L81.7,243.8 L89.0,245.2 L96.2,247.4 L102.0,245.9 L107.8,245.2 L112.2,250.3 L115.8,256.1 L119.4,254.6 L123.8,255.4 L125.9,259.0 L127.4,264.8 L130.3,270.6 L128.8,274.9 L128.1,280.7 L128.1,288.0 L129.6,293.8 L133.9,299.6 L138.3,301.7 L144.1,299.6 L148.4,298.1 L151.3,290.9 L155.7,288.7 L163.6,288.0 L161.4,292.3 L158.6,298.1 L154.2,302.5 L149.9,303.9 L147.0,308.3 L144.1,314.1 L138.3,311.2 L131.0,309.7 L123.8,306.8 L115.1,302.5 L107.8,298.8 L102.8,295.2 L101.3,289.4 L100.6,285.1 L99.1,279.3 L94.8,272.0 L90.4,264.8 L85.4,256.1 L81.7,248.8 L80.3,245.9 L81.7,254.6 L83.9,261.9 L86.1,270.6 L88.3,280.7 L86.1,277.8 L83.2,273.5 L81.7,269.1 L77.4,263.3 L75.9,257.5 L75.2,250.3ZM881.4,233.0 L885.9,228.5 L891.6,226.2 L895.0,222.9 L898.3,218.3 L901.7,216.1 L899.5,211.6 L898.3,205.9 L899.5,204.2 L902.9,207.1 L905.1,210.4 L906.2,216.1 L907.9,222.9 L908.5,226.2 L906.2,228.5 L901.7,227.4 L899.5,229.6 L897.2,233.0 L895.0,230.7 L892.7,228.5 L888.2,229.6 L883.7,231.9 L881.4,233.0 L885.9,228.5 L891.6,226.2 L895.0,222.9 L898.3,218.3 L901.7,216.1 L899.5,211.6 L898.3,205.9 L899.5,204.2 L902.9,207.1 L905.1,210.4 L906.2,216.1 L907.9,222.9 L908.5,226.2 L906.2,228.5 L901.7,227.4 L899.5,229.6 L897.2,233.0 L895.0,230.7 L892.7,228.5 L888.2,229.6 L883.7,231.9ZM280.5,358.1 L284.0,364.3 L285.8,367.8 L282.3,373.2 L278.7,378.5 L282.3,381.1 L287.6,383.8 L291.1,380.2 L292.9,376.7 L300.0,378.5 L305.3,382.9 L314.1,383.8 L323.0,385.6 L330.1,390.0 L335.4,394.4 L337.2,401.5 L335.4,408.6 L331.9,415.7 L326.5,422.8 L323.0,430.0 L324.5,435.4 L322.9,444.6 L319.9,453.8 L316.8,464.6 L309.1,467.6 L301.4,470.7 L296.8,475.3 L294.5,479.9 L296.0,486.1 L293.7,492.2 L289.9,498.4 L286.1,504.5 L271.5,495.3 L275.3,487.6 L279.1,483.0 L278.4,476.9 L276.8,469.2 L272.2,464.6 L263.8,460.0 L263.8,450.7 L263.0,446.1 L259.9,440.0 L255.3,435.4 L252.2,427.7 L246.1,423.1 L238.4,420.0 L232.6,413.0 L227.3,415.7 L220.2,416.6 L216.7,412.1 L211.4,412.1 L207.0,405.0 L207.8,398.0 L211.4,392.6 L216.7,390.9 L219.4,380.2 L220.2,373.2 L225.6,372.3 L230.9,374.9 L234.4,374.0 L238.0,369.6 L239.7,363.4 L243.3,362.5 L250.4,359.0 L252.1,360.8 L253.9,366.1 L257.4,371.4 L262.8,371.4 L269.9,367.8 L276.9,366.1 L280.5,358.1 L284.0,364.3 L285.8,367.8 L282.3,373.2 L278.7,378.5 L282.3,381.1 L287.6,383.8 L291.1,380.2 L292.9,376.7 L300.0,378.5 L305.3,382.9 L314.1,383.8 L323.0,385.6 L330.1,390.0 L335.4,394.4 L337.2,401.5 L335.4,408.6 L331.9,415.7 L326.5,422.8 L323.0,430.0 L324.5,435.4 L322.9,444.6 L319.9,453.8 L316.8,464.6 L309.1,467.6 L301.4,470.7 L296.8,475.3 L294.5,479.9 L296.0,486.1 L293.7,492.2 L289.9,498.4 L286.1,504.5 L271.5,495.3 L275.3,487.6 L279.1,483.0 L278.4,476.9 L276.8,469.2 L272.2,464.6 L263.8,460.0 L263.8,450.7 L263.0,446.1 L259.9,440.0 L255.3,435.4 L252.2,427.7 L246.1,423.1 L238.4,420.0 L232.6,413.0 L227.3,415.7 L220.2,416.6 L216.7,412.1 L211.4,412.1 L207.0,405.0 L207.8,398.0 L211.4,392.6 L216.7,390.9 L219.4,380.2 L220.2,373.2 L225.6,372.3 L230.9,374.9 L234.4,374.0 L238.0,369.6 L239.7,363.4 L243.3,362.5 L250.4,359.0 L252.1,360.8 L253.9,366.1 L257.4,371.4 L262.8,371.4 L269.9,367.8 L276.9,366.1ZM894.5,388.5 L898.0,387.3 L901.0,388.0 L902.9,392.5 L900.0,391.0 L897.0,390.5 L895.0,390.5 L894.5,388.5 L898.0,387.3 L901.0,388.0 L902.9,392.5 L900.0,391.0 L897.0,390.5 L895.0,390.5ZM858.5,275.0 L862.5,274.5 L863.0,281.0 L860.0,285.0 L857.5,282.0 L858.5,275.0 L862.5,274.5 L863.0,281.0 L860.0,285.0 L857.5,282.0ZM862.3,221.7 L865.6,220.6 L869.0,225.1 L870.7,229.6 L871.3,233.0 L867.9,235.3 L865.1,234.1 L863.4,229.6 L861.7,225.1 L862.3,221.7 L865.6,220.6 L869.0,225.1 L870.7,229.6 L871.3,233.0 L867.9,235.3 L865.1,234.1 L863.4,229.6 L861.7,225.1ZM789.2,297.3 L795.9,295.4 L798.8,303.1 L805.6,301.2 L811.4,306.0 L815.3,315.7 L812.4,320.5 L806.6,318.6 L803.7,324.3 L799.8,320.5 L796.9,324.3 L796.5,334.0 L799.0,340.0 L800.5,346.0 L794.0,346.0 L792.5,340.0 L793.5,336.0 L793.0,324.3 L792.1,312.8 L790.1,305.0 L789.2,297.3 L795.9,295.4 L798.8,303.1 L805.6,301.2 L811.4,306.0 L815.3,315.7 L812.4,320.5 L806.6,318.6 L803.7,324.3 L799.8,320.5 L796.9,324.3 L796.5,334.0 L799.0,340.0 L800.5,346.0 L794.0,346.0 L792.5,340.0 L793.5,336.0 L793.0,324.3 L792.1,312.8 L790.1,305.0ZM875.0,342.9 L880.2,341.6 L884.0,339.0 L886.6,336.4 L889.2,341.6 L887.9,346.7 L884.0,350.6 L881.4,348.0 L878.9,345.5 L875.0,342.9 L880.2,341.6 L884.0,339.0 L886.6,336.4 L889.2,341.6 L887.9,346.7 L884.0,350.6 L881.4,348.0 L878.9,345.5Z"/></g>
<g fill="none" stroke="#fff" stroke-width="0.9"><polyline points="84.0,179.8 172.5,179.8 175.1,181.4 179.0,183.4 182.9,184.3 189.6,182.9 194.4,181.0 196.4,183.4 199.3,187.2 201.2,191.1 204.1,194.0 209.9,201.7 219.6,200.7 226.3,195.0 237.0,194.0 246.6,187.2"/><polyline points="107.2,98.9 73.8,133.5 77.0,136.5 82.0,139.0 85.0,143.0"/><polyline points="210.3,332.9 209.5,340.9 213.5,349.0 221.5,353.0 225.6,353.8 226.4,360.3 228.0,368.3 225.6,372.4"/><polyline points="251.3,346.6 249.7,353.8 253.8,359.5"/><polyline points="261.0,354.6 262.6,368.3"/><polyline points="272.3,354.6 273.1,366.7"/><polyline points="186.1,371.5 197.4,378.0 202.2,384.4 208.7,387.7 215.1,390.9 219.0,395.0"/><polyline points="180.5,389.3 185.3,395.7 192.6,389.3 199.0,380.4"/><polyline points="222.5,418.9 222.9,430.4 222.5,441.0 220.7,446.4 224.3,449.9 227.8,455.2 231.4,462.3 233.1,465.8 230.5,472.9 229.6,483.6 227.8,494.2 227.8,505.0 231.2,500.0 232.1,519.5 235.0,538.9 238.9,558.4 240.9,574.0 246.7,581.8"/><polyline points="233.1,465.0 236.7,462.3 241.1,463.2 245.5,461.4 249.1,461.4 248.2,455.2 250.8,451.7 256.2,450.8 261.5,451.7 263.2,455.2"/><polyline points="249.1,461.4 254.4,469.4 263.2,472.9 266.8,476.5 265.0,481.8 270.3,483.6 275.6,480.0 276.5,476.5"/><polyline points="269.4,495.1 267.7,501.3 268.6,505.0"/><polyline points="451.8,236.6 453.8,244.3 448.0,248.2 440.2,254.0 430.6,259.8 429.6,265.6 430.6,269.4 448.0,281.0 463.4,292.6 471.2,299.4 475.0,298.4 496.3,281.0"/><polyline points="429.6,265.6 417.1,265.6 409.3,265.6"/><polyline points="484.7,226.9 482.8,236.6 486.6,244.3 489.5,252.1 489.5,275.2 496.3,281.0 505.9,284.9 513.7,283.0 538.8,296.5 538.8,312.0 533.0,325.5 536.9,337.1"/><polyline points="538.8,246.3 539.8,292.6"/><polyline points="539.8,287.8 575.5,287.8"/><polyline points="417.1,265.6 419.0,277.2 413.2,288.8 414.2,291.7 397.7,292.6"/><polyline points="429.6,265.6 436.4,277.2 437.3,315.8 417.1,315.8"/><polyline points="471.2,299.4 471.2,315.8 463.4,319.7"/><polyline points="505.9,284.9 507.9,302.3 502.1,315.8 504.0,325.5"/><polyline points="487.6,367.7 502.0,367.7 507.1,371.9 506.2,378.7 507.1,383.8 501.1,386.3 496.9,391.4 498.6,395.6"/><polyline points="520.6,363.5 519.7,375.3 515.5,385.4 508.8,393.9 502.0,397.3 498.6,395.6"/><polyline points="498.6,399.0 514.7,401.0 518.9,408.3 525.7,405.7 530.7,406.6 533.3,419.3 540.0,422.3 545.1,424.7 551.0,422.7 556.1,417.6 557.0,411.7 562.9,411.7 571.3,415.9"/><polyline points="540.0,422.3 539.2,429.4 534.1,430.3 533.3,446.3"/><polyline points="496.9,447.2 513.8,447.7 525.7,448.4 534.1,448.9 544.3,449.7 551.0,446.3 557.8,441.3 562.9,437.9 571.3,434.5"/><polyline points="559.5,368.5 558.6,380.4 557.0,387.1 559.5,393.9 561.2,404.0 562.9,411.7"/><polyline points="576.4,368.5 574.7,378.7 571.3,382.1 581.5,388.8 588.2,393.9 591.6,395.6"/><polyline points="598.4,365.1 598.4,380.4 591.6,393.9"/><polyline points="574.7,422.7 581.5,424.3 591.6,421.0"/><polyline points="572.2,416.7 574.7,422.7 575.6,431.1 578.1,441.3 576.4,444.6 573.9,441.3 573.0,434.5 571.3,429.4 572.2,422.7"/><polyline points="567.9,439.6 569.6,449.7 567.9,460.0"/><polyline points="458.2,314.2 472.4,300.1 484.5,294.0 492.5,290.0"/><polyline points="472.4,300.1 473.4,310.2 470.3,320.3 460.3,324.3 448.2,325.3 439.1,328.3 434.0,336.4"/><polyline points="449.2,330.3 449.2,348.5"/><polyline points="458.2,330.3 458.2,350.5"/><polyline points="463.3,331.4 463.3,350.5"/><polyline points="506.7,290.0 508.7,302.1 504.6,314.2 501.6,320.3"/><polyline points="538.9,294.0 534.9,310.2 532.9,322.3 534.9,336.4"/><polyline points="506.7,330.3 518.8,334.4 532.9,330.3"/><polyline points="534.9,316.2 551.0,318.2 571.2,318.2 583.3,316.2"/><polyline points="583.3,290.0 585.3,302.1 581.3,316.2 579.3,330.3 583.3,336.4 601.5,338.4"/><polyline points="605.5,314.2 607.5,326.3 623.7,332.4 631.7,324.3"/><polyline points="585.1,244.0 600.6,257.5 612.2,257.5"/><polyline points="571.6,232.4 589.0,226.6 598.6,226.6"/><polyline points="585.1,244.0 589.0,226.6"/><polyline points="571.6,245.9 585.1,244.0"/><polyline points="691.4,273.0 691.4,265.2 695.3,253.6 703.0,240.1 712.7,234.3"/><polyline points="604.4,307.8 616.0,303.9 633.4,298.1 643.1,282.6"/><polyline points="633.4,298.1 635.4,309.7"/><polyline points="478.1,154.4 477.5,163.1 475.7,170.0 472.3,176.9 474.0,184.4 477.5,187.3 478.1,191.3"/><polyline points="475.7,170.0 479.8,174.6 481.5,181.5 493.0,179.8 496.5,176.9 494.2,168.8 501.1,165.9 498.8,157.3 500.0,152.7 497.7,150.4"/><polyline points="494.2,168.8 501.1,166.5 509.2,170.0 512.6,173.4 525.3,173.4"/><polyline points="496.5,176.9 508.0,176.9 524.2,176.9 526.5,173.4 525.3,168.8 525.3,160.7 524.2,151.5"/><polyline points="512.6,151.5 524.2,151.0 535.7,148.1 546.1,152.7 550.7,160.7 558.7,167.7 564.5,172.3 575.0,174.6"/><polyline points="525.3,164.2 535.7,163.6 547.2,165.9 551.8,161.9"/><polyline points="514.9,146.9 535.7,147.5"/><polyline points="517.2,143.5 534.5,143.5"/><polyline points="521.9,182.7 528.8,181.5 535.7,182.7 542.6,181.5 547.2,189.6"/><polyline points="505.7,186.1 514.9,188.4 521.9,188.4 526.5,194.2 528.8,202.2 526.5,209.2"/><polyline points="508.0,190.7 514.9,194.2 517.2,202.2"/><polyline points="481.5,181.5 487.3,183.2 489.6,185.0"/><polyline points="490.9,145.9 489.9,136.3 490.9,126.6 494.8,117.0 498.6,109.2 502.5,105.4 508.3,103.4 512.1,101.5 516.0,102.5 517.9,105.4 527.6,101.5 532.4,99.6"/><polyline points="517.9,105.4 518.9,110.2 519.4,114.1"/><polyline points="527.6,101.5 529.5,107.3 533.4,113.1 537.2,117.9 539.2,123.7 536.3,128.6 533.4,131.5"/><polyline points="428.5,197.0 431.0,200.0 431.0,210.0 430.0,216.0 431.0,221.0"/><polyline points="442.5,196.0 448.0,198.5 455.0,199.5 464.0,200.2"/><polyline points="599.5,178.5 597.7,174.9 603.0,171.4 611.9,169.6 620.8,173.2 631.4,171.4 638.5,171.4 636.7,164.3 638.5,160.8 647.3,158.1 658.0,155.4 665.0,158.1 673.9,161.6 681.0,159.0 688.1,166.1 696.9,172.3 704.0,171.4 714.7,176.7 720.0,178.5 728.8,173.2 737.7,171.4 746.5,167.8 760.0,167.8"/><polyline points="720.0,178.5 714.7,183.8 711.1,187.3 712.9,192.6 707.6,196.2 702.3,198.0 700.5,203.3"/><polyline points="690.0,276.8 692.6,272.9 695.2,267.7 697.7,262.6 700.3,260.0"/><polyline points="723.5,260.0 732.5,265.2 741.5,267.7 749.3,269.0"/><polyline points="751.9,271.6 760.9,270.3 764.7,274.2 762.2,279.3 763.5,284.5"/><polyline points="767.3,267.7 768.6,276.8 766.0,283.2 767.3,290.9 773.8,298.7"/><polyline points="797.9,281.8 805.6,291.5 815.3,301.2 820.1,310.8 824.0,318.6"/><polyline points="813.3,316.6 823.0,317.6"/><polyline points="865.5,160.0 872.0,167.0 880.0,176.0 888.0,186.0"/><polyline points="690.0,166.9 696.1,170.0 705.4,171.5 713.1,174.6 719.2,176.9 726.9,173.0 736.1,170.7 746.9,166.9 756.1,168.4"/><polyline points="779.1,165.4 782.2,164.6 788.4,156.9 791.4,150.8"/><polyline points="586.1,203.1 595.4,206.1 603.0,208.4 606.1,210.7"/><polyline points="596.9,210.0 598.4,216.9 601.5,220.0 606.1,226.1"/><polyline points="572.3,229.2 590.7,226.1 600.0,224.6 606.1,226.1"/><polyline points="590.7,226.1 592.3,238.4 584.6,244.6"/><polyline points="606.1,226.1 606.1,238.4 612.3,246.1 613.8,253.8 616.9,259.9"/><polyline points="570.8,238.4 584.6,244.6 596.9,253.8"/><polyline points="626.1,223.0 636.9,222.3 646.1,224.6 652.2,227.6 653.8,238.4 658.4,247.6 659.9,255.3"/><polyline points="659.9,255.3 670.7,253.8 679.9,247.6 686.0,239.9 689.1,230.7"/><polyline points="630.7,195.4 630.7,207.7 639.9,207.7 652.2,218.4 664.5,223.0 670.7,224.6"/><polyline points="630.7,195.4 636.9,193.1 646.1,196.9 658.4,203.1 667.6,210.7 676.8,207.7"/><polyline points="676.8,204.6 689.1,203.1 698.3,206.1"/><polyline points="670.7,216.9 679.9,213.8 690.6,216.9"/><polyline points="397.9,312.1 405.6,309.5 412.1,310.8 417.2,315.9 418.5,326.2 415.9,327.5 404.3,327.5"/><polyline points="404.3,334.0 410.8,327.5"/><polyline points="412.1,340.4 418.5,336.5 423.7,339.1 430.1,335.3"/><polyline points="430.1,335.3 430.1,359.7"/><polyline points="437.8,315.9 452.0,317.2 459.7,315.9 470.1,314.6"/><polyline points="430.1,335.3 439.1,334.0 440.4,328.8 446.9,323.7 457.2,317.2"/></g>
<g fill="none" stroke="#fff" stroke-width="2" stroke-linecap="round"><polyline points="791.4,150.8 788.4,156.9 784.0,162.0 779.1,165.4"/></g>
</svg>
<div class="t">TOP 10 Compradores de Trigo de EUA en el 2021/22 (millones de toneladas)</div>
<!-- Mexico -->
<svg class="f" style="left:144px;top:257px" width="33" height="19" viewBox="0 0 33 19"><rect width="11" height="19" fill="#006847"/><rect x="11" width="11" height="19" fill="#fff"/><rect x="22" width="11" height="19" fill="#ce1126"/><circle cx="16.5" cy="9.5" r="2.6" fill="#8c5a2b"/><circle cx="16.5" cy="10.5" r="1.4" fill="#3a8f3a" opacity="0.7"/></svg>
<div class="b k" style="left:176px;top:253px;width:46px;height:28px;">1.4</div>
<div class="b r" style="left:222px;top:253px;width:44px;height:28px;">0.5</div>
<!-- China -->
<svg class="f" style="left:737px;top:171px" width="30" height="21" viewBox="0 0 30 21"><rect width="30" height="21" fill="#e8321c"/><g stroke="#c8180c" stroke-width="1.6"><line x1="-2" y1="6" x2="8" y2="-4"/><line x1="-2" y1="13" x2="15" y2="-4"/><line x1="-2" y1="20" x2="22" y2="-4"/><line x1="2" y1="23" x2="29" y2="-4"/><line x1="9" y1="23" x2="33" y2="-1"/><line x1="16" y1="23" x2="33" y2="6"/><line x1="23" y1="23" x2="33" y2="13"/></g><polygon points="5,2.5 6,5.3 9,5.3 6.6,7 7.5,9.8 5,8.1 2.5,9.8 3.4,7 1,5.3 4,5.3" fill="#ffde00"/><circle cx="10.5" cy="2.5" r="0.8" fill="#ffde00"/><circle cx="12" cy="4.5" r="0.8" fill="#ffde00"/><circle cx="12" cy="7.2" r="0.8" fill="#ffde00"/><circle cx="10.5" cy="9" r="0.8" fill="#ffde00"/></svg>
<div class="b k" style="left:767px;top:168px;width:47px;height:28px;">0.6</div>
<div class="b r" style="left:815px;top:168px;width:46px;height:28px;">0.2</div>
<!-- Japan -->
<svg class="f" style="left:910px;top:195px" width="32" height="22" viewBox="0 0 32 22"><rect x="0.5" y="0.5" width="31" height="21" fill="#fff" stroke="#bdbdbd"/><circle cx="16.5" cy="11" r="6.3" fill="#d0223a"/></svg>
<div class="b k" style="left:943px;top:193px;width:47px;height:28px;">0.9</div>
<div class="b r" style="left:990px;top:193px;width:47px;height:28px;">0.3</div>
<!-- Korea -->
<svg class="f" style="left:908px;top:228px" width="35" height="26" viewBox="0 0 35 26"><rect x="0.5" y="0.5" width="34" height="25" fill="#fff" stroke="#222"/><path d="M11.5,13 a6,6 0 0 1 12,0 a3,3 0 0 1 -6,0 a3,3 0 0 0 -6,0z" fill="#cd2e3a"/><path d="M11.5,13 a6,6 0 0 0 12,0 a3,3 0 0 1 -6,0 a3,3 0 0 0 -6,0z" fill="#0047a0"/><g stroke="#222" stroke-width="2.6" stroke-dasharray="1.2 0.8"><line x1="4.5" y1="7.5" x2="8.5" y2="3.5"/><line x1="26.5" y1="3.5" x2="30.5" y2="7.5"/><line x1="4.5" y1="18.5" x2="8.5" y2="22.5"/><line x1="26.5" y1="22.5" x2="30.5" y2="18.5"/></g></svg>
<div class="b k" style="left:944px;top:227px;width:41px;height:28px;">0.5</div>
<div class="b r" style="left:985px;top:227px;width:47px;height:28px;">0.2</div>
<!-- Taiwan -->
<svg class="f" style="left:869px;top:265px" width="32" height="24" viewBox="0 0 32 24"><rect width="32" height="24" fill="#fe0000"/><rect width="17" height="12" fill="#000095"/><circle cx="8.5" cy="6" r="3.3" fill="#fff"/></svg>
<div class="b k" style="left:901px;top:264px;width:51px;height:28px;">0.2</div>
<div class="b r" style="left:952px;top:264px;width:44px;height:28px;">0.1</div>
<!-- Philippines -->
<svg class="f" style="left:889px;top:333px" width="37" height="24" viewBox="0 0 37 24"><rect width="37" height="12" fill="#0038a8"/><rect y="12" width="37" height="12" fill="#ce1126"/><polygon points="0,0 16,12 0,24" fill="#fff"/><circle cx="5.5" cy="12" r="2.6" fill="#fcd116"/><circle cx="1.8" cy="3" r="0.9" fill="#fcd116"/><circle cx="1.8" cy="21" r="0.9" fill="#fcd116"/><circle cx="12" cy="12" r="0.9" fill="#fcd116"/></svg>
<div class="b k" style="left:926px;top:331px;width:42px;height:30px;">1.3</div>
<div class="b r" style="left:969px;top:331px;width:47px;height:30px;">0.4</div>
<!-- Thailand -->
<div class="f" style="left:726px;top:349px;width:37px;height:21px;background:linear-gradient(#ed1c24 0 16.6%,#fff 16.6% 33.3%,#2d2a7f 33.3% 66.6%,#fff 66.6% 83.3%,#ed1c24 83.3%);"></div>
<div class="b k" style="left:765px;top:345px;width:42px;height:29px;">0.1</div>
<div class="b r" style="left:807px;top:345px;width:46px;height:29px;">0.1</div>
<!-- Nigeria -->
<div class="f" style="left:506px;top:340px;width:41px;height:21px;border:1px solid #333;background:linear-gradient(90deg,#008751 0 33.3%,#fff 33.3% 66.6%,#008751 66.6%);"></div>
<div class="b k" style="left:548px;top:337px;width:42px;height:28px;">0.6</div>
<div class="b r" style="left:590px;top:337px;width:47px;height:28px;">0.4</div>
<!-- Brazil -->
<svg class="f" style="left:339px;top:425px" width="33" height="24" viewBox="0 0 33 24"><rect width="33" height="24" fill="#009c3b"/><polygon points="3,12 16.5,2.5 30,12 16.5,21.5" fill="#ffdf00"/><circle cx="16.5" cy="12" r="5.3" fill="#002776"/><path d="M11.5,11 q5,-2 10,1.5" stroke="#fff" stroke-width="0.9" fill="none"/></svg>
<div class="b k" style="left:376px;top:421px;width:46px;height:29px;">0.1</div>
<div class="b r" style="left:423px;top:421px;width:47px;height:29px;">0.0</div>
<!-- Unknown -->
<div class="b k" style="left:398px;top:557px;width:76px;height:32px;font-size:28px;letter-spacing:0;padding-left:0;">?</div>
<div class="b k" style="left:477px;top:527px;width:161px;height:84px;font-size:14px;line-height:20.5px;text-align:center;flex-direction:column;letter-spacing:0.3px;">Destinos<br>Desconocidos<br>1.3</div>
</body></html>
